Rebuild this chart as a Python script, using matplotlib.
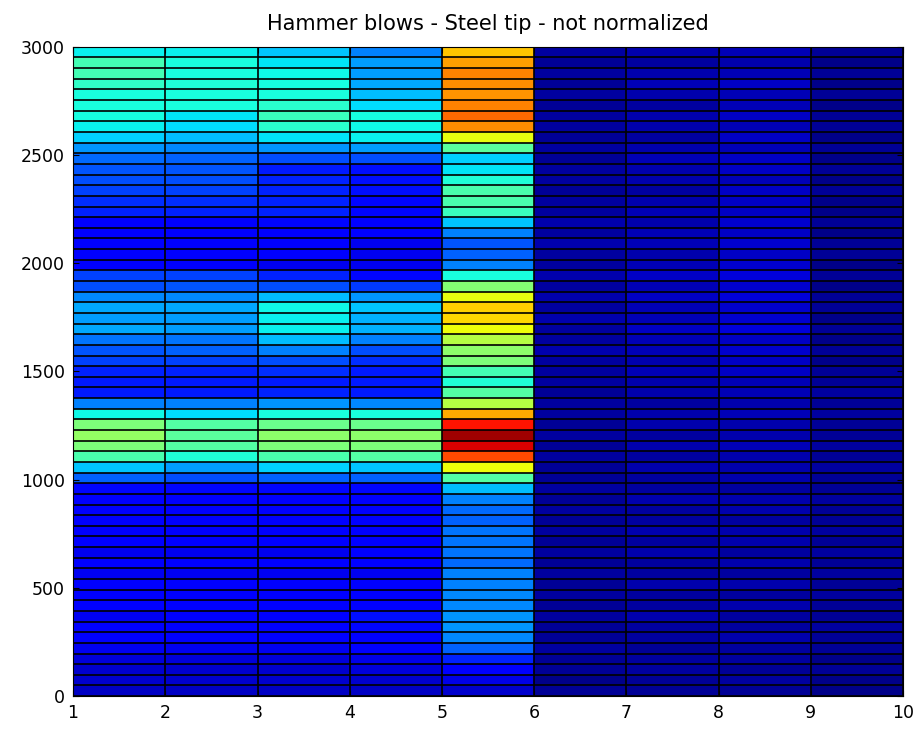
import numpy as np
import matplotlib
matplotlib.use("Agg")
import matplotlib.pyplot as plt

# hammer blow spectra, one list per blow, rows from 3000 Hz down to 0 Hz
# (values given as fraction of the colour range)
blow_1 = [0.36, 0.43, 0.43, 0.41, 0.38, 0.38, 0.375, 0.36, 0.33, 0.27, 0.23, 0.21, 0.20, 0.19, 0.17,
          0.16, 0.12, 0.12, 0.11, 0.12, 0.11, 0.19, 0.20, 0.26, 0.29, 0.28, 0.29, 0.24, 0.21, 0.19, 0.16,
          0.15, 0.15, 0.25, 0.37, 0.50, 0.53, 0.50, 0.44, 0.32, 0.22, 0.13, 0.11, 0.11, 0.11, 0.11,
          0.11, 0.10, 0.11, 0.10, 0.11, 0.12, 0.11, 0.10, 0.12, 0.11, 0.10, 0.08, 0.07, 0.07, 0.06]
blow_2 = [0.36, 0.38, 0.38, 0.39, 0.38, 0.38, 0.35, 0.34, 0.31, 0.26, 0.22, 0.21, 0.20, 0.19, 0.17,
          0.16, 0.12, 0.12, 0.11, 0.12, 0.11, 0.19, 0.21, 0.26, 0.29, 0.28, 0.28, 0.24, 0.22, 0.19, 0.16,
          0.15, 0.15, 0.25, 0.34, 0.45, 0.46, 0.45, 0.39, 0.28, 0.20, 0.13, 0.11, 0.11, 0.11, 0.11,
          0.11, 0.10, 0.11, 0.10, 0.11, 0.12, 0.11, 0.11, 0.11, 0.11, 0.10, 0.08, 0.07, 0.07, 0.06]
blow_3 = [0.32, 0.35, 0.37, 0.375, 0.38, 0.40, 0.42, 0.40, 0.35, 0.27, 0.20, 0.15, 0.16, 0.16, 0.16,
          0.16, 0.13, 0.12, 0.11, 0.11, 0.10, 0.16, 0.20, 0.31, 0.37, 0.36, 0.36, 0.31, 0.25, 0.20, 0.17,
          0.15, 0.16, 0.27, 0.38, 0.48, 0.52, 0.50, 0.44, 0.33, 0.22, 0.13, 0.11, 0.11, 0.11, 0.11,
          0.11, 0.10, 0.11, 0.10, 0.11, 0.11, 0.12, 0.11, 0.11, 0.11, 0.10, 0.08, 0.07, 0.07, 0.06]
blow_4 = [0.25, 0.28, 0.28, 0.29, 0.31, 0.34, 0.375, 0.37, 0.36, 0.28, 0.20, 0.14, 0.14, 0.14, 0.13,
          0.13, 0.12, 0.11, 0.10, 0.10, 0.10, 0.13, 0.18, 0.27, 0.32, 0.30, 0.30, 0.25, 0.20, 0.17, 0.15,
          0.15, 0.15, 0.26, 0.38, 0.48, 0.52, 0.50, 0.45, 0.32, 0.22, 0.13, 0.11, 0.11, 0.11, 0.11,
          0.11, 0.11, 0.11, 0.10, 0.11, 0.12, 0.12, 0.14, 0.13, 0.12, 0.11, 0.09, 0.08, 0.07, 0.06]
blow_5 = [0.70, 0.74, 0.77, 0.76, 0.75, 0.77, 0.80, 0.76, 0.63, 0.46, 0.33, 0.35, 0.39, 0.44, 0.44,
          0.42, 0.32, 0.25, 0.21, 0.22, 0.25, 0.38, 0.51, 0.63, 0.69, 0.68, 0.64, 0.57, 0.52, 0.50, 0.43,
          0.39, 0.45, 0.57, 0.73, 0.89, 0.97, 0.92, 0.83, 0.64, 0.45, 0.31, 0.25, 0.23, 0.22, 0.24,
          0.24, 0.24, 0.23, 0.25, 0.25, 0.26, 0.26, 0.27, 0.27, 0.26, 0.22, 0.16, 0.11, 0.09, 0.07]
blow_6 = [0.03, 0.02, 0.03, 0.02, 0.03, 0.02, 0.03, 0.03, 0.02, 0.03, 0.02, 0.03, 0.03, 0.02, 0.03,
          0.03, 0.04, 0.03, 0.04, 0.03, 0.03, 0.04, 0.03, 0.04, 0.03, 0.04, 0.03, 0.03, 0.04, 0.03, 0.03,
          0.03, 0.02, 0.03, 0.03, 0.02, 0.03, 0.02, 0.03, 0.02, 0.02, 0.03, 0.02, 0.03, 0.02, 0.03,
          0.02, 0.03, 0.02, 0.03, 0.02, 0.03, 0.02, 0.03, 0.02, 0.02, 0.03, 0.02, 0.02, 0.01, 0.02]
blow_7 = [0.04, 0.03, 0.04, 0.05, 0.04, 0.03, 0.04, 0.04, 0.03, 0.04, 0.05, 0.04, 0.04, 0.03, 0.04,
          0.05, 0.04, 0.05, 0.05, 0.04, 0.05, 0.06, 0.05, 0.06, 0.05, 0.05, 0.06, 0.05, 0.05, 0.04, 0.05,
          0.04, 0.04, 0.03, 0.04, 0.04, 0.03, 0.04, 0.03, 0.04, 0.03, 0.03, 0.04, 0.03, 0.03, 0.04,
          0.03, 0.04, 0.03, 0.03, 0.04, 0.03, 0.03, 0.04, 0.03, 0.03, 0.02, 0.03, 0.03, 0.02, 0.02]
blow_8 = [0.05, 0.04, 0.05, 0.06, 0.05, 0.05, 0.06, 0.05, 0.06, 0.05, 0.06, 0.06, 0.05, 0.06, 0.06,
          0.06, 0.07, 0.06, 0.07, 0.06, 0.07, 0.08, 0.07, 0.08, 0.07, 0.07, 0.08, 0.06, 0.07, 0.06, 0.06,
          0.05, 0.05, 0.04, 0.05, 0.04, 0.04, 0.05, 0.04, 0.04, 0.04, 0.03, 0.04, 0.04, 0.03, 0.04,
          0.04, 0.03, 0.04, 0.03, 0.04, 0.03, 0.04, 0.03, 0.03, 0.04, 0.03, 0.03, 0.02, 0.03, 0.02]
blow_9 = [0.02, 0.01, 0.02, 0.01, 0.02, 0.01, 0.02, 0.02, 0.01, 0.02, 0.01, 0.02, 0.01, 0.02, 0.01,
          0.01, 0.02, 0.01, 0.02, 0.02, 0.01, 0.02, 0.01, 0.02, 0.02, 0.01, 0.02, 0.01, 0.02, 0.01, 0.02,
          0.02, 0.03, 0.02, 0.03, 0.02, 0.02, 0.03, 0.02, 0.03, 0.02, 0.02, 0.03, 0.02, 0.02, 0.03,
          0.02, 0.03, 0.02, 0.03, 0.02, 0.03, 0.02, 0.02, 0.03, 0.02, 0.02, 0.01, 0.02, 0.01, 0.01]

blows = [blow_1, blow_2, blow_3, blow_4, blow_5, blow_6, blow_7, blow_8, blow_9]
blow_edges = np.arange(1, 11)          # 1..10
freq_edges = np.linspace(0, 3000, 62)  # 61 frequency bands

C = np.array(blows).T[::-1]   # rows bottom (0 Hz) -> top

fig = plt.figure(figsize=(9.14, 7.32), dpi=100)
ax = fig.add_axes([0.080, 0.049, 0.908, 0.887])

ax.pcolormesh(blow_edges, freq_edges, C, cmap='jet', vmin=0, vmax=1,
              shading='flat')
# cell borders like matlab pcolor
ax.hlines(freq_edges, blow_edges[0], blow_edges[-1], colors='k', linewidth=1.2, snap=True)
ax.vlines(blow_edges, freq_edges[0], freq_edges[-1], colors='k', linewidth=1.2, snap=True)

ax.set_xlim(1, 10)
ax.set_ylim(0, 3000)
ax.set_xticks(range(1, 11))
ax.set_yticks(range(0, 3001, 500))
ax.tick_params(direction='in', length=4, labelsize=12.5, pad=6,
               top=True, right=True)
for s in ax.spines.values():
    s.set_linewidth(0.8)

ax.set_title('Hammer blows - Steel tip - not normalized', fontsize=15, pad=12)

fig.savefig('out.png', dpi=100)
